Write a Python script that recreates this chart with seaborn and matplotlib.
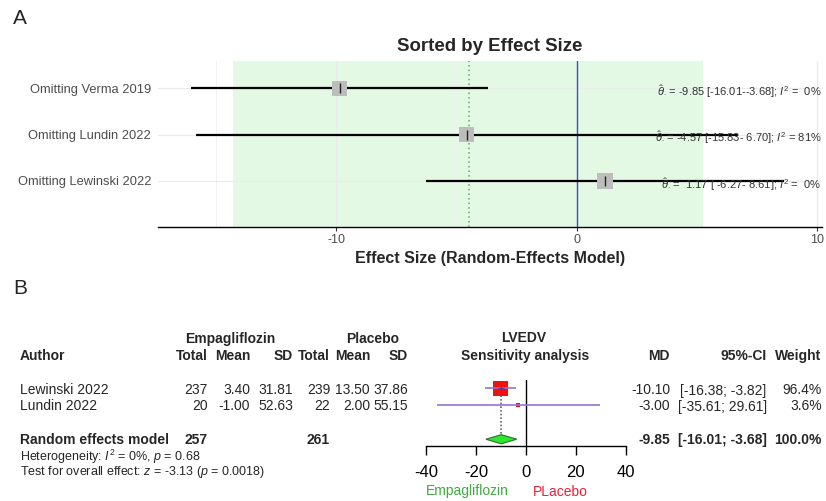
import numpy as np
import pandas as pd
import seaborn as sns
import matplotlib.pyplot as plt
from matplotlib import transforms

# ---- Panel A: leave-one-out results ----
omit_labels = ["Omitting Verma 2019", "Omitting Lundin 2022", "Omitting Lewinski 2022"]
omit_es = [-9.85, -4.57, 1.17]
omit_lo = [-16.01, -15.83, -6.27]
omit_hi = [-3.68, 6.70, 8.61]
omit_i2 = [0, 81, 0]
pi_range = [-14.27, 5.23]
mean_line = -4.49

# ---- Panel B: forest plot ----
studies = ["Lewinski 2022", "Lundin 2022"]
emp_total = [237, 20]
emp_mean = [3.40, -1.00]
emp_sd = [31.81, 52.63]
pla_total = [239, 22]
pla_mean = [13.50, 2.00]
pla_sd = [37.86, 55.15]
md = [-10.10, -3.00]
md_lo = [-16.38, -35.61]
md_hi = [-3.82, 29.61]
weight = [96.4, 3.6]
re_md, re_lo, re_hi = -9.85, -16.01, -3.68
re_emp_total, re_pla_total = 257, 261

sns.set_theme(style="whitegrid")
plt.rcParams["font.family"] = ["Liberation Sans", "DejaVu Sans"]
plt.rcParams["axes.unicode_minus"] = False
plt.rcParams["mathtext.fontset"] = "custom"
plt.rcParams["mathtext.rm"] = "Liberation Sans"
plt.rcParams["mathtext.it"] = "Liberation Sans:italic"
plt.rcParams["mathtext.bf"] = "Liberation Sans:bold"

W, H = 826, 501
fig = plt.figure(figsize=(W / 100, H / 100), dpi=100)
fig.patch.set_facecolor("white")


def T(x, y, s, **kw):
    kw.setdefault("va", "center")
    kw.setdefault("fontsize", 10)
    fig.text(x / W, 1 - y / H, s, **kw)


# ================= Panel A =================
ax = fig.add_axes([157.7 / W, 1 - 226.7 / H, 664 / W, 166 / H])
df_a = pd.DataFrame({"label": omit_labels, "es": omit_es, "lo": omit_lo,
                     "hi": omit_hi, "row": range(len(omit_labels))})

ax.axvspan(pi_range[0], pi_range[1], color="#e4f9e4", lw=0, zorder=0.2)
ax.axvline(0, color="#3a4fd6", lw=1, zorder=2)
ax.axvline(mean_line, color="#5fa85f", lw=1.1, ls=(0, (1, 2)), zorder=2)
ax.hlines(df_a["row"], df_a["lo"], df_a["hi"], color="black", lw=1.6, zorder=3)
sns.scatterplot(data=df_a, x="es", y="row", marker="s", s=125, color="#bdbdbd",
                edgecolor="none", ax=ax, zorder=4, legend=False)
sns.scatterplot(data=df_a, x="es", y="row", marker="|", s=45, color="#222222",
                linewidth=1, ax=ax, zorder=5, legend=False)

lbl_tr = transforms.blended_transform_factory(ax.transAxes, ax.transData)
for r, (e, lo, hi, i2) in enumerate(zip(omit_es, omit_lo, omit_hi, omit_i2)):
    s = (r"$\hat{\theta}_{\cdot}$ = " + f"{e:5.2f} [{lo:6.2f}-{hi:5.2f}]; "
         + r"$I^2$" + f" = {i2:2d}%")
    ax.text(1.0, r + 0.07, s, transform=lbl_tr, ha="right", va="center",
            fontsize=8, color="#333333", zorder=6)

ax.set_xlim(-17.41, 10.18)
ax.set_ylim(2.99, -0.6)
ax.set_yticks(df_a["row"], omit_labels)
ax.set_xticks([-10, 0, 10])
ax.set_xticks([-15, -5, 5], minor=True)
ax.grid(which="major", color="#ebebeb", lw=0.9)
ax.grid(which="minor", axis="x", color="#f0f0f0", lw=0.6)
ax.set_axisbelow(True)
ax.set_facecolor("white")
for sp in ["left", "top", "right"]:
    ax.spines[sp].set_visible(False)
ax.spines["bottom"].set_color("black")
ax.spines["bottom"].set_linewidth(1)
ax.tick_params(axis="y", length=0, pad=4.8, labelsize=9.3, labelcolor="#4d4d4d")
ax.tick_params(axis="x", which="major", length=3, width=0.8, color="#333333",
               pad=2, labelsize=9, labelcolor="#4d4d4d", bottom=True)
ax.tick_params(axis="x", which="minor", length=0)
ax.set_ylabel("")
ax.set_xlabel("Effect Size (Random-Effects Model)", fontsize=11.5,
              fontweight="bold", labelpad=4)
ax.set_title("Sorted by Effect Size", fontsize=13.4, fontweight="bold", pad=7)

T(13, 18, "A", fontsize=15)
T(13, 288, "B", fontsize=15)

# ================= Panel B =================
axb = fig.add_axes([426 / W, 1 - 446 / H, 199.7 / W, 66 / H])
rows = [0, 1]
re_row = 3
df_b = pd.DataFrame({"study": studies, "md": md, "lo": md_lo, "hi": md_hi,
                     "weight": weight, "row": rows})

axb.axvline(0, color="black", lw=1, zorder=1)
axb.vlines(re_md, rows[0], re_row, colors="#666666", linestyles=(0, (1, 1.2)),
           lw=1.2, zorder=1)
sns.scatterplot(data=df_b, x="md", y="row", size="weight", sizes=(9, 110),
                marker="s", color="#ee1111", edgecolor="none", ax=axb,
                legend=False, zorder=2)
axb.hlines(df_b["row"], df_b["lo"], df_b["hi"], color="#9a72cf", lw=1.2, zorder=3)
sns.scatterplot(data=df_b.iloc[:1], x="md", y="row", marker="+", s=14,
                color="#5b3a9a", linewidth=0.8, ax=axb, legend=False, zorder=4)
h = 0.27
axb.fill([re_lo, re_md, re_hi, re_md], [re_row, re_row - h, re_row, re_row + h],
         facecolor="#2ee62e", edgecolor="#2d6e2d", lw=0.8, zorder=4)

axb.set_xlim(-40, 40)
axb.set_ylim(3.4, -0.5)
axb.set_xticks([-40, -20, 0, 20, 40])
axb.set_yticks([])
axb.grid(False)
axb.patch.set_alpha(0)
for sp in ["left", "top", "right"]:
    axb.spines[sp].set_visible(False)
axb.spines["bottom"].set_color("black")
axb.spines["bottom"].set_linewidth(1)
axb.tick_params(axis="x", length=6.5, width=1, color="black", pad=7,
                labelsize=12, labelcolor="black", bottom=True)
axb.set_xlabel("")
axb.set_ylabel("")

# column right edges (pixels)
col_x = [208, 250, 293.3, 330, 370, 408.3]

# table headers
T(230.5, 339, "Empagliflozin", ha="center", fontweight="bold")
T(373, 339, "Placebo", ha="center", fontweight="bold")
T(524, 338, "LVEDV", ha="center", fontweight="bold")
T(20, 356, "Author", ha="left", fontweight="bold")
for x, s in zip(col_x, ["Total", "Mean", "SD", "Total", "Mean", "SD"]):
    T(x, 356, s, ha="right", fontweight="bold")
T(525, 356, "Sensitivity analysis", ha="center", fontweight="bold")
T(670, 356, "MD", ha="right", fontweight="bold")
T(766.7, 356, "95%-CI", ha="right", fontweight="bold")
T(821.7, 356, "Weight", ha="right", fontweight="bold")

# study rows
row_y = [390.5, 406.5]
for i, y in enumerate(row_y):
    T(20, y, studies[i], ha="left")
    vals = [f"{emp_total[i]}", f"{emp_mean[i]:.2f}", f"{emp_sd[i]:.2f}",
            f"{pla_total[i]}", f"{pla_mean[i]:.2f}", f"{pla_sd[i]:.2f}"]
    for x, v in zip(col_x, vals):
        T(x, y, v, ha="right")
    T(670, y, f"{md[i]:.2f}", ha="right")
    T(766.7, y, f"[{md_lo[i]:.2f}; {md_hi[i]:.2f}]", ha="right")
    T(821.7, y, f"{weight[i]:.1f}%", ha="right")

# pooled row
T(20, 440, "Random effects model", ha="left", fontweight="bold")
T(col_x[0], 440, f"{re_emp_total}", ha="right", fontweight="bold")
T(col_x[3], 440, f"{re_pla_total}", ha="right", fontweight="bold")
T(670, 440, f"{re_md:.2f}", ha="right", fontweight="bold")
T(766.7, 440, f"[{re_lo:.2f}; {re_hi:.2f}]", ha="right", fontweight="bold")
T(821.7, 440, "100.0%", ha="right", fontweight="bold")
T(20, 456.5, r"Heterogeneity: $I^2$ = 0%, $p$ = 0.68", ha="left", fontsize=9)
T(20, 472, r"Test for overall effect: $z$ = -3.13 ($p$ = 0.0018)", ha="left",
  fontsize=9)

T(467.5, 491.5, "Empagliflozin", ha="center", color="#3faa3f")
T(560.5, 491.5, "PLacebo", ha="center", color="#e8213a")

fig.savefig("out.png", dpi=100)
